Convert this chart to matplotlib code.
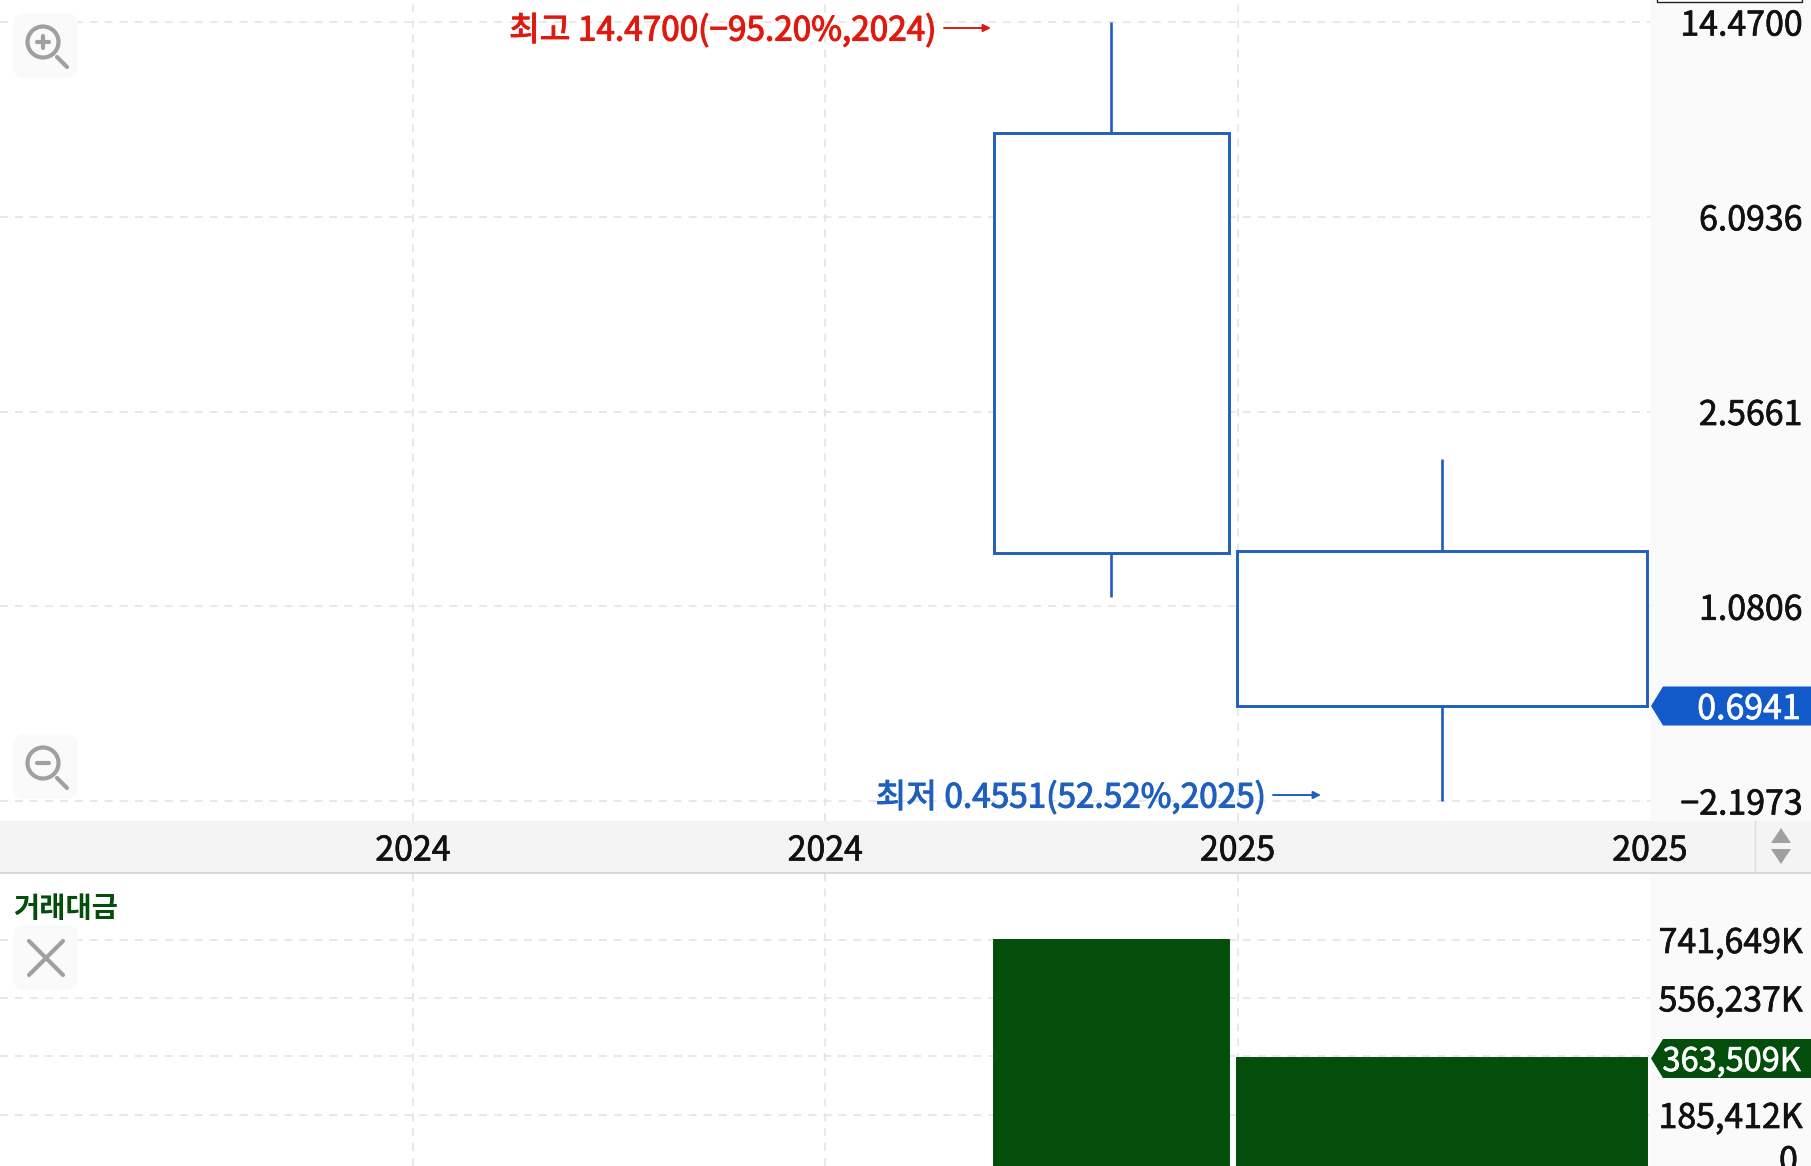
import numpy as np
import matplotlib
matplotlib.use('Agg')
import matplotlib.pyplot as plt
import matplotlib.patheffects as pe
from matplotlib.patches import Rectangle, FancyBboxPatch, Polygon, Circle
from matplotlib.transforms import blended_transform_factory

plt.rcParams['font.family'] = ['Noto Sans CJK KR', 'DejaVu Sans']

W, H = 1811, 1166

# data
time_ticks = [0, 1, 2, 3]
time_labels = ['2024', '2024', '2025', '2025']

candle_left = [1.409, 1.998]
candle_right = [1.979, 2.993]
price_open = [8.84, 1.382]
price_close = [1.369, 0.6941]
price_high = [14.47, 2.078]
price_low = [1.126, 0.4551]

price_ticks = [14.47, 6.0936, 2.5661, 1.0806, 0.4551]
price_labels = ['14.4700', '6.0936', '2.5661', '1.0806', '\u22122.1973']

volume = [741649, 363509]
volume_ticks = [741649, 556237, 370825, 185412]
volume_labels = ['741,649K', '556,237K', '', '185,412K']

last_price = '0.6941'
last_volume = '363,509K'
high_text = '최고 14.4700(\u221295.20%,2024)'
low_text = '최저 0.4551(52.52%,2025)'
volume_title = '거래대금'

BLUE = '#1f5fbf'
TAG_BLUE = '#1259c9'
RED = '#e0190f'
GREEN = '#024e0a'
GRID = '#e2e2e2'
ICON = '#a0a0a0'
INK = '#111111'
DASH = (0, (5.2, 4.6))
FS = 24.4


def axes_px(fig, x0, y0, x1, y1, **kw):
    return fig.add_axes([x0 / W, 1 - y1 / H, (x1 - x0) / W, (y1 - y0) / H], **kw)


def thicken(text, width=0.5):
    text.set_path_effects([pe.withStroke(linewidth=width, foreground=text.get_color())])


fig = plt.figure(figsize=(W / 100, H / 100), dpi=100, facecolor='white')

# backgrounds under the axes
fig.add_artist(Rectangle((1650 / W, 0), 161 / W, 1, transform=fig.transFigure,
                         fc='#fafafa', ec='none', zorder=-2))
fig.add_artist(Rectangle((0, 1 - 873 / H), 1, 52 / H, transform=fig.transFigure,
                         fc='#f4f4f4', ec='none', zorder=-1))

unit = (1650 - 413) / 3.0
xlim = (-413 / unit, 3)
x_left = np.array(candle_left)
x_right = np.array(candle_right)
x_mid = (x_left + x_right) / 2

# price panel, log scale
ax = axes_px(fig, 0, 0, 1650, 821, facecolor='white')
step = np.log(price_ticks[0] / price_ticks[1]) / 194.75
ax.set_yscale('log')
ax.set_ylim(price_ticks[0] * np.exp(-(821 - 22) * step), price_ticks[0] * np.exp(22 * step))
ax.set_xlim(*xlim)
ax.vlines(x_mid, price_low, price_high, color=BLUE, lw=1.9, zorder=3)
ax.bar(x_left, np.array(price_close) - np.array(price_open), bottom=price_open,
       width=x_right - x_left, align='edge', fc='white', ec=BLUE, lw=2.1, zorder=4)
ax.set_yticks(price_ticks)
ax.set_yticklabels(price_labels, ha='right')
ax.minorticks_off()
ax.tick_params(axis='y', left=False, right=False, labelleft=False, labelright=True,
               pad=106.5, labelsize=FS, labelcolor=INK)
ax.set_xticks(time_ticks)
ax.set_xticklabels(time_labels)
ax.tick_params(axis='x', length=0, pad=9, labelsize=FS, labelcolor=INK)

# volume panel
ax2 = axes_px(fig, 0, 874, 1650, H, facecolor='white')
vol_per_px = (volume_ticks[0] - volume_ticks[3]) / 175.0
ax2.set_ylim(volume_ticks[0] - (H - 939.5) * vol_per_px, volume_ticks[0] + (939.5 - 874) * vol_per_px)
ax2.set_xlim(*xlim)
ax2.bar(x_left, volume, width=x_right - x_left, align='edge', color=GREEN, ec=GREEN, lw=1.4, zorder=3)
ax2.set_yticks(volume_ticks)
ax2.set_yticklabels(volume_labels, ha='right')
ax2.tick_params(axis='y', left=False, labelleft=False, labelright=True,
                pad=106.5, labelsize=FS, labelcolor=INK)
ax2.set_xticks(time_ticks)
ax2.tick_params(axis='x', length=0, labelbottom=False)
zero = ax2.annotate('0', xy=(1, 0), xycoords=blended_transform_factory(ax2.transAxes, ax2.transData),
                    xytext=(106.5, 8), textcoords='offset points', ha='right', va='center',
                    fontsize=FS, color=INK, annotation_clip=False)
thicken(zero)

for a in (ax, ax2):
    for s in a.spines.values():
        s.set_visible(False)
    a.grid(True, color=GRID, lw=1.1, linestyle=DASH, zorder=0)
    a.set_axisbelow(True)
    a.get_xgridlines()[-1].set_visible(False)
    for t in a.get_yticklabels() + a.get_xticklabels():
        t.set_color(INK)
        thicken(t)

# overlay in pixels: icons, tags, notes
ov = fig.add_axes([0, 0, 1, 1], facecolor='none', zorder=5)
ov.set_xlim(0, W)
ov.set_ylim(H, 0)
ov.axis('off')

ov.plot([0, W], [873, 873], color='#d8d8d8', lw=1.4)
ov.plot([1755, 1755], [821, 873], color='#dddddd', lw=1)
ov.add_patch(Polygon([[1781, 828], [1771, 843], [1791, 843]], fc=ICON, ec='none'))
ov.add_patch(Polygon([[1781, 864], [1771, 849], [1791, 849]], fc=ICON, ec='none'))
ov.add_patch(Rectangle((1657, -6), 145, 8, fc='white', ec='#222222', lw=1))


def icon_box(y0):
    ov.add_patch(FancyBboxPatch((21, y0 + 8), 49, 49, boxstyle='round,pad=8,rounding_size=12',
                                fc='#fafafa', ec='none'))


def magnifier(y0, plus):
    cy = y0 + 29
    ov.add_patch(Circle((43, cy), 15.5, fc='none', ec=ICON, lw=3))
    ov.plot([57, 67], [cy + 15, cy + 25], color=ICON, lw=3, solid_capstyle='round')
    ov.plot([37, 49], [cy, cy], color=ICON, lw=3, solid_capstyle='round')
    if plus:
        ov.plot([43, 43], [cy - 6, cy + 6], color=ICON, lw=3, solid_capstyle='round')


icon_box(13)
magnifier(13, True)
icon_box(734)
magnifier(734, False)
icon_box(925)
ov.plot([29, 63], [941, 975], color=ICON, lw=3, solid_capstyle='round')
ov.plot([29, 63], [975, 941], color=ICON, lw=3, solid_capstyle='round')

ov.text(13, 909, volume_title, color=GREEN, fontsize=20.5, fontweight='bold', va='center', ha='left')


def tag(y, color, label, size):
    ov.add_patch(Polygon([[1651, y], [1663, y - 19.5], [W, y - 19.5], [W, y + 19.5], [1663, y + 19.5]],
                         fc=color, ec='none'))
    thicken(ov.text(1801, y + 3.5, label, color='white', fontsize=size, ha='right', va='center'))


tag(706, TAG_BLUE, last_price, FS)
tag(1058.5, GREEN, last_volume, 23.4)


def note(text, x1, y, color, ax0, ax1):
    thicken(ov.text(x1, y + 2, text, color=color, fontsize=24, ha='right', va='center'), 0.8)
    ov.annotate('', xy=(ax1, y - 1), xytext=(ax0, y - 1),
                arrowprops=dict(arrowstyle='-|>,head_width=0.22,head_length=0.45', color=color,
                                lw=1.4, shrinkA=0, shrinkB=0))


note(high_text, 935, 29, RED, 944, 991)
note(low_text, 1265, 796, BLUE, 1273, 1321)

fig.savefig('out.png', dpi=100)
